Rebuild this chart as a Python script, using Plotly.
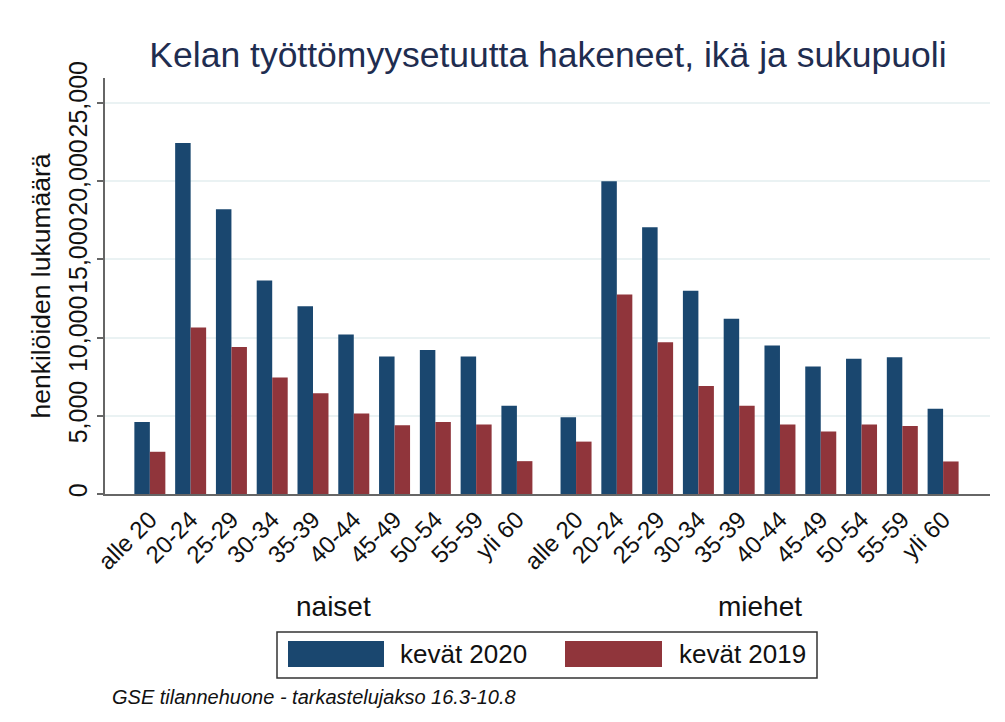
import plotly.graph_objects as go

age_groups = ["alle 20", "20-24", "25-29", "30-34", "35-39", "40-44", "45-49", "50-54", "55-59", "yli 60"]
sexes = ["naiset", "miehet"]
naiset_2020 = [4600, 22450, 18200, 13650, 12000, 10200, 8800, 9200, 8800, 5650]
naiset_2019 = [2700, 10650, 9400, 7450, 6450, 5150, 4400, 4600, 4450, 2100]
miehet_2020 = [4900, 20000, 17050, 13000, 11200, 9500, 8150, 8650, 8750, 5450]
miehet_2019 = [3350, 12750, 9700, 6900, 5650, 4450, 4000, 4450, 4350, 2080]
series_names = ["kevät 2020", "kevät 2019"]
y_ticks = [0, 5000, 10000, 15000, 20000, 25000]
footnote = "GSE tilannehuone - tarkastelujakso 16.3-10.8"
title = "Kelan työttömyysetuutta hakeneet, ikä ja sukupuoli"

BLUE = "#1a476f"
RED = "#90353b"
FONT = "Liberation Sans, Arial, sans-serif"

group_offset = 10.45
x_pos = [i for i in range(len(age_groups))] + [group_offset + i for i in range(len(age_groups))]
labels = age_groups + age_groups

fig = go.Figure()
fig.add_trace(go.Bar(x=x_pos, y=naiset_2020 + miehet_2020, name=series_names[0],
                     marker=dict(color=BLUE, line=dict(width=0)), showlegend=False))
fig.add_trace(go.Bar(x=x_pos, y=naiset_2019 + miehet_2019, name=series_names[1],
                     marker=dict(color=RED, line=dict(width=0)), showlegend=False))

fig.update_layout(
    width=1005, height=722,
    margin=dict(l=105, r=15, t=78, b=228),
    paper_bgcolor="white", plot_bgcolor="white",
    barmode="group", bargap=0.24, bargroupgap=0,
    font=dict(family=FONT, color="#111111"),
    title=dict(text=title, x=548 / 1005, xanchor="center", y=1 - 55 / 722, yanchor="middle",
               font=dict(size=35.5, color="#1f2d50", family=FONT)),
)

fig.update_xaxes(
    range=[-1.1, 20.6], tickmode="array", tickvals=x_pos, ticktext=labels,
    tickangle=-45, tickfont=dict(size=24, color="#111111"),
    showgrid=False, zeroline=False, showline=True, linecolor="#666666", linewidth=2,
    ticks="",
)
fig.update_yaxes(
    range=[0, 26600], tickvals=y_ticks, tickformat=",d",
    tickangle=-90, tickfont=dict(size=25, color="#111111"),
    showgrid=True, gridcolor="#eaf2f3", gridwidth=1.5, zeroline=False,
    showline=True, linecolor="#666666", linewidth=2,
    ticks="outside", ticklen=6, tickcolor="#666666", tickwidth=1.5,
    title=dict(text="henkilöiden lukumäärä", font=dict(size=26.5, color="#111111"), standoff=6),
)

# group labels
group_centers = [4.5, group_offset + 4.5]
for sx, gx in zip(sexes, group_centers):
    fig.add_annotation(x=gx, xref="x", y=-0.2716, yref="paper", text=sx, showarrow=False,
                       font=dict(size=28, color="#111111"), xanchor="center", yanchor="middle")

# legend box (drawn manually to match large swatches)
def px_x(p):
    return (p - 105) / 885.0

def px_y(p):
    return (494 - p) / 416.0

fig.add_shape(type="rect", xref="paper", yref="paper",
              x0=px_x(277), x1=px_x(817), y0=px_y(632), y1=px_y(678),
              line=dict(color="#333333", width=1.5), fillcolor="white")
legend_items = [(series_names[0], BLUE, 288, 384, 398), (series_names[1], RED, 565, 662, 677)]
for name, col, sx0, sx1, tx in legend_items:
    fig.add_shape(type="rect", xref="paper", yref="paper",
                  x0=px_x(sx0), x1=px_x(sx1), y0=px_y(641), y1=px_y(667),
                  line=dict(width=0), fillcolor=col)
    fig.add_annotation(x=px_x(tx), xref="paper", y=px_y(654), yref="paper", text=name,
                       showarrow=False, xanchor="left", yanchor="middle",
                       font=dict(size=26, color="#111111"))

fig.add_annotation(x=px_x(110), xref="paper", y=px_y(697), yref="paper",
                   text="<i>" + footnote + "</i>", showarrow=False,
                   xanchor="left", yanchor="middle", font=dict(size=20, color="#111111"))

fig.write_html("out.html", config={"displayModeBar": False},
               post_script="document.body.style.margin='0';")
